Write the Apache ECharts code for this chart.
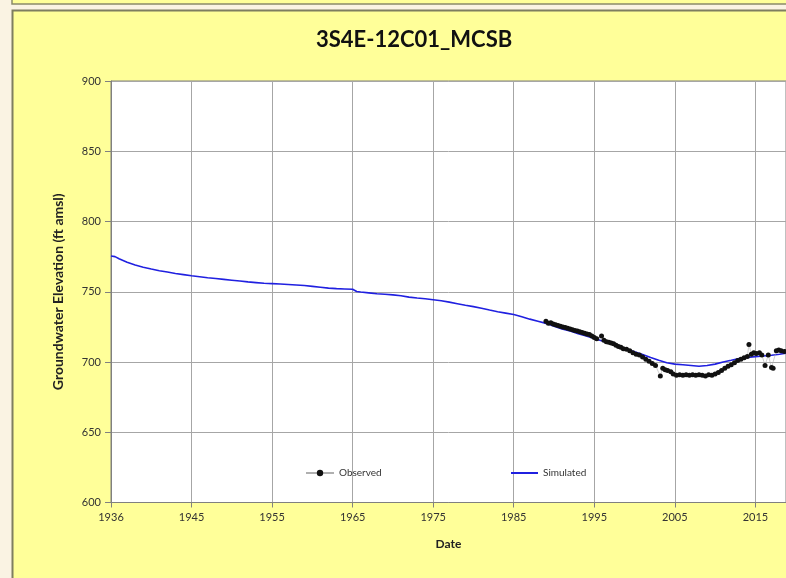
<!DOCTYPE html>
<html><head><meta charset="utf-8">
<script src="https://cdn.jsdelivr.net/npm/echarts@6/dist/echarts.min.js"></script>
<style>html,body{margin:0;padding:0;background:#FAF3E3;}#c{width:786px;height:578px;}</style>
</head><body><div id="c"></div>
<script>
const titleText = "3S4E-12C01_MCSB";
const xTickLabels = ["1936","1945","1955","1965","1975","1985","1995","2005","2015"];
const yTicks = [600, 650, 700, 750, 800, 850, 900];

const simYears = [1936,1936.5,1937,1938,1939,1940,1941,1942,1943,1944,1945,1946,1947,1948,1949,1950,1951,1952,1953,1954,1955,1956,1957,1958,1959,1960,1961,1962,1963,1964,1965,1966,1966.5,1967,1968,1969,1970,1971,1972,1973,1974,1975,1976,1977,1978,1979,1980,1981,1982,1983,1984,1985,1986,1987,1988,1989,1990,1991,1992,1993,1994,1995,1996,1997,1998,1999,2000,2001,2002,2003,2004,2005,2006,2007,2008,2009,2010,2011,2012,2013,2014,2015,2016,2017,2018,2019,2020,2021];
const simValues = [775.5,775,773.5,771,769,767.5,766.2,765,764,763,762.2,761.4,760.7,760,759.4,758.8,758.2,757.6,757,756.5,756,755.8,755.5,755.2,754.8,754.4,753.8,753.2,752.6,752.2,752,751.8,750.2,749.8,749.2,748.6,748.2,747.8,747.2,746.2,745.5,745,744.3,743.6,742.6,741.5,740.4,739.4,738.3,737,735.8,734.8,733.8,732.2,730.5,729,727.5,725.5,723.5,722,720.2,718.5,716.8,715,713,711,709,707.2,705.3,703.2,701.2,699.5,698.5,698,697.5,697,697.5,698.5,700,701.2,702.5,703.2,703.8,704.3,704.8,705.5,706.5,707];

const obsYears = [1990.0,1990.3,1990.6,1990.9,1991.2,1991.5,1991.8,1992.1,1992.4,1992.7,1993.0,1993.3,1993.6,1993.9,1994.2,1994.5,1994.8,1995.1,1995.4,1995.7,1996.0,1996.3,1996.9,1997.2,1997.5,1997.8,1998.1,1998.4,1998.7,1999.0,1999.3,1999.6,2000.0,2000.4,2000.8,2001.2,2001.6,2002.0,2002.4,2002.8,2003.2,2003.6,2004.2,2004.5,2004.8,2005.1,2005.5,2005.8,2006.2,2006.6,2007.0,2007.4,2007.8,2008.2,2008.6,2009.0,2009.4,2009.8,2010.2,2010.6,2011.0,2011.4,2011.8,2012.2,2012.6,2013.0,2013.4,2013.8,2014.2,2014.6,2015.0,2015.2,2015.5,2015.8,2016.1,2016.5,2016.8,2017.2,2017.6,2018.0,2018.2,2018.6,2018.9,2019.2,2019.6];
const obsValues = [729,727.5,728,727,726.5,726,725.5,725,724.5,724,723.5,723,722.5,722,721.5,721,720.5,720,719.5,718.5,717.5,716.5,718.5,715.5,714.5,714,713.5,713,712,711,710.5,709.5,709,708,706.5,705.5,705,703.5,702,700.5,699,697.5,690,695.5,694.5,694,693,691.5,690.5,691,690.5,691,690.5,691,690.5,691,690.5,690,691,690.5,691.5,692.5,694,695.5,697,698,699.5,701,702,703,704,712.5,705.5,706.5,706,706.5,705,697.5,705,696,695.5,708,708.5,708,707.5];

const FONT = 'Lato, "Open Sans", sans-serif';
const chart = echarts.init(document.getElementById('c'), null, {renderer: 'canvas'});
chart.setOption({
  animation: false,
  backgroundColor: '#FAF3E3',
  graphic: [
    {type: 'rect', z: -10, shape: {x: 12, y: -2, width: 800, height: 6}, style: {fill: '#FFFF99', stroke: '#8A8A6A', lineWidth: 1.5}},
    {type: 'rect', z: -10, shape: {x: 12.5, y: 10.5, width: 800, height: 600}, style: {fill: '#FFFF99', stroke: '#7E7E60', lineWidth: 2}}
  ],
  title: {
    text: titleText, left: 311, top: 24,
    textStyle: {fontFamily: FONT, fontWeight: 'bold', fontSize: 22, color: '#111'}
  },
  legend: [
    {
      left: 300, top: 463, itemWidth: 28, itemHeight: 8,
      textStyle: {fontFamily: FONT, fontSize: 10, color: '#333'},
      data: ['Observed']
    },
    {
      left: 506, top: 463, itemWidth: 27, itemHeight: 2, icon: 'rect',
      textStyle: {fontFamily: FONT, fontSize: 10, color: '#333'},
      data: ['Simulated']
    }
  ],
  grid: {left: 111, top: 81, right: 0, bottom: 75.5, show: true, backgroundColor: '#fff', borderColor: '#808080', borderWidth: 1},
  xAxis: {
    type: 'value', min: 1936, max: 2019.8, interval: 10,
    name: 'Date', nameLocation: 'middle', nameGap: 36,
    nameTextStyle: {fontFamily: FONT, fontWeight: 'bold', fontSize: 12, color: '#222', padding: [0, 0, 0, 0]},
    axisLine: {show: true, onZero: false, lineStyle: {color: '#808080'}},
    axisTick: {show: true, length: 5, lineStyle: {color: '#808080'}},
    axisLabel: {fontFamily: FONT, fontSize: 11, color: '#333', margin: 9, showMaxLabel: false,
      formatter: function (v) {
        const i = Math.round((v - 1936) / 10);
        if (Math.abs(v - (1936 + i * 10)) > 0.01) return '';
        return xTickLabels[i] || '';
      }},
    splitLine: {show: true, lineStyle: {color: '#A6A6A6', width: 1}}
  },
  yAxis: {
    type: 'value', min: yTicks[0], max: yTicks[yTicks.length - 1], interval: 50,
    name: 'Groundwater Elevation (ft amsl)', nameLocation: 'middle', nameGap: 46, nameRotate: 90,
    nameTextStyle: {fontFamily: FONT, fontWeight: 'bold', fontSize: 14, color: '#222'},
    axisLine: {show: true, lineStyle: {color: '#808080'}},
    axisTick: {show: true, length: 6, lineStyle: {color: '#808080'}},
    axisLabel: {fontFamily: FONT, fontSize: 11, color: '#333', margin: 10},
    splitLine: {show: true, lineStyle: {color: '#A6A6A6', width: 1}}
  },
  series: [
    {
      name: 'Observed', type: 'line',
      data: obsYears.map((x, i) => [x, obsValues[i]]),
      symbol: 'circle', symbolSize: 5, showSymbol: true,
      itemStyle: {color: '#111'},
      lineStyle: {color: '#B0B0B0', width: 0.6},
      z: 3
    },
    {
      name: 'Simulated', type: 'line',
      data: simYears.map((x, i) => [x, simValues[i]]),
      symbol: 'none',
      itemStyle: {color: '#2020E0'},
      lineStyle: {color: '#2020E0', width: 1.6},
      z: 2
    }
  ]
});
</script></body></html>
